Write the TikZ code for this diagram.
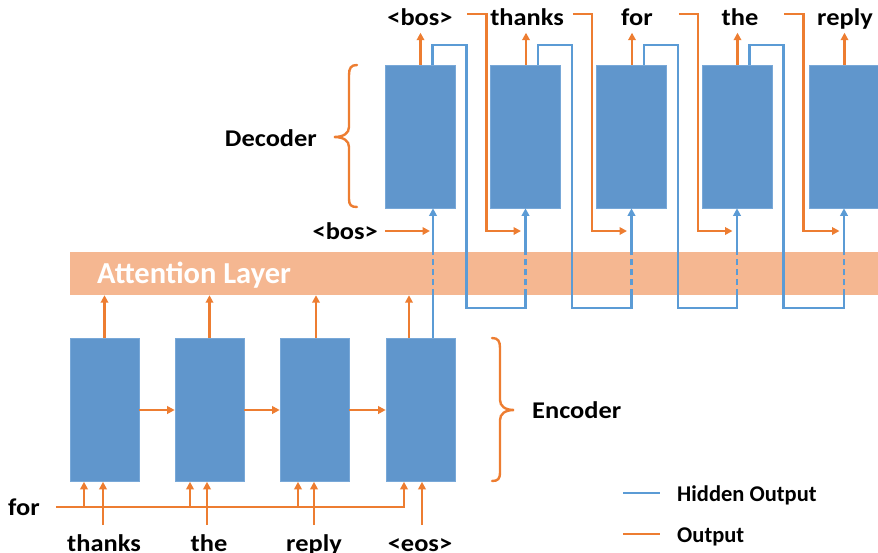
\documentclass[tikz,border=0pt]{standalone}
\usepackage{fontspec}
\setmainfont{Carlito}
\newfontfamily\widefont{Carlito}[FakeStretch=1.1]
\usetikzlibrary{arrows.meta}

\definecolor{cellfill}{RGB}{96,150,204}
\definecolor{celledge}{RGB}{120,168,216}
\definecolor{hidblue}{RGB}{91,155,213}
\definecolor{outorange}{RGB}{237,125,49}
\definecolor{bandfill}{RGB}{245,183,145}

\tikzset{
  cell/.style={draw=celledge, line width=0.6pt, fill=cellfill, inner sep=0pt,
               minimum width=69pt, minimum height=143pt},
  band/.style={fill=bandfill, inner sep=0pt, minimum width=810pt, minimum height=43pt},
  word/.style={inner sep=0pt, text=black, font=\widefont\bfseries\fontsize{24}{28}\selectfont},
  legendtext/.style={inner sep=0pt, text=black, font=\bfseries\fontsize{22.5}{26}\selectfont},
  bandtext/.style={inner sep=0pt, text=white, font=\bfseries\fontsize{30.5}{35}\selectfont},
  tip/.style={-{Triangle[length=7.5pt,width=7.5pt]}},
  outw/.style={draw=outorange, line width=2.4pt},
  outa/.style={outw, tip},
  hid/.style={draw=hidblue, line width=2.4pt},
  hida/.style={hid, tip},
  dashseg/.style={hid, dash pattern=on 6pt off 4pt},
  bracepath/.style={draw=outorange, line width=2.4pt, line cap=round},
}

\begin{document}
\begin{tikzpicture}[x=1pt, y=-1pt]
\useasboundingbox (0,0) rectangle (878,552);

% reference levels (only the y value is used)
\coordinate (wordline) at (0,14);
\coordinate (looptop)  at (0,45);
\coordinate (feed)     at (0,231);
\coordinate (looplow)  at (0,308);
\coordinate (forline)  at (0,507);
\coordinate (wordtop)  at (0,525);

% attention band
\node[band] (att) at (475,273.5) {};
\node[bandtext, anchor=base west] (attlbl) at (97,283) {Attention Layer};

% encoder cells
\node[cell] (e1) at (104.5,410) {};
\node[cell] (e2) at (209.5,410) {};
\node[cell] (e3) at (314.5,410) {};
\node[cell] (e4) at (420.5,410) {};

% decoder cells
\node[cell, minimum width=70pt] (d1) at (420,136.5) {};
\node[cell, minimum width=70pt] (d2) at (525.5,136.5) {};
\node[cell, minimum width=70pt] (d3) at (631.5,136.5) {};
\node[cell, minimum width=70pt] (d4) at (737,136.5) {};
\node[cell, minimum width=70pt] (d5) at (844,136.5) {};

% encoder: recurrent links
\draw[outa] (e1.east) -- (e2.west);
\draw[outa] (e2.east) -- (e3.west);
\draw[outa] (e3.east) -- (e4.west);

% encoder: outputs into the attention layer
\draw[outa] (e1.north) -- (e1.north |- att.south);
\draw[outa] (e2.north) -- (e2.north |- att.south);
\draw[outa] ([xshift=1.5pt]e3.north) -- ([xshift=1.5pt]e3.north |- att.south);
\draw[outa] ([xshift=-11.5pt]e4.north) -- ([xshift=-11.5pt]e4.north |- att.south);

% encoder hidden state handed to the first decoder cell
\coordinate (h0) at ([xshift=12.5pt]e4.north);
\draw[hid] (h0) -- (h0 |- att.south);
\draw[dashseg] (h0 |- att.south) -- (h0 |- att.north);
\draw[hida] (h0 |- att.north) -- ([xshift=13pt]d1.south);

% encoder inputs
\node[word, anchor=base west] (wfor) at (8,515) {for};
\node[word, anchor=base] (w1) at (104,551) {thanks};
\node[word, anchor=base] (w2) at (209,551) {the};
\node[word, anchor=base] (w3) at (314,551) {reply};
\node[word, anchor=base] (w4) at (420,551) {<eos>};

\draw[outa] ([xshift=16pt]wfor.east |- forline) -| ([xshift=-16.5pt]e4.south);
\draw[outa] ([xshift=-20.5pt]e1.south |- forline) -- ([xshift=-20.5pt]e1.south);
\draw[outa] ([xshift=-19.5pt]e2.south |- forline) -- ([xshift=-19.5pt]e2.south);
\draw[outa] ([xshift=-16.5pt]e3.south |- forline) -- ([xshift=-16.5pt]e3.south);

\draw[outa] ([xshift=-1.5pt]e1.south |- wordtop) -- ([xshift=-1.5pt]e1.south);
\draw[outa] ([xshift=-2.5pt]e2.south |- wordtop) -- ([xshift=-2.5pt]e2.south);
\draw[outa] ([xshift=-0.5pt]e3.south |- wordtop) -- ([xshift=-0.5pt]e3.south);
\draw[outa] ([xshift=1.5pt]e4.south |- wordtop) -- ([xshift=1.5pt]e4.south);

% decoder outputs
\node[word, anchor=base] (o1) at (420,25) {<bos>};
\node[word, anchor=base] (o2) at (527,25) {thanks};
\node[word, anchor=base] (o3) at (637,25) {for};
\node[word, anchor=base] (o4) at (740,25) {the};
\node[word, anchor=base] (o5) at (845,25) {reply};

\foreach \c in {d1,d2,d3,d4,d5}
  \draw[outa] ([xshift=0.5pt]\c.north) -- ++(0,-32);

% decoder start token
\node[word, anchor=base east] (bosin) at (378,239) {<bos>};
\draw[outa] ([xshift=7pt]bosin.east |- feed) -- ([xshift=10pt]d1.south |- feed);

% decoder: hidden state loops and fed-back outputs
\foreach \a/\b in {d1/d2, d2/d3, d3/d4, d4/d5} {
  \draw[hid] ([xshift=12.5pt]\a.north) -- ([xshift=12.5pt]\a.north |- looptop)
        -| ([xshift=11pt]\a.east |- looplow) -| (\b.south |- att.south);
  \draw[dashseg] (\b.south |- att.south) -- (\b.south |- att.north);
  \draw[hida] (\b.south |- att.north) -- (\b.south);
  \draw[outa] ([xshift=12pt]\a.east |- wordline) -| ([xshift=31pt]\a.east |- feed)
        -- ([xshift=-4.5pt]\b.south |- feed);
}

% braces and group labels
\draw[bracepath] (357,65) .. controls (351,65) and (349,68) .. (349,75)
  -- (349,127) .. controls (349,133) and (344,137) .. (334,137)
  .. controls (344,137) and (349,141) .. (349,147)
  -- (349,199) .. controls (349,205) and (351,207) .. (357,207);
\node[word, anchor=base east] (declbl) at (317,146) {Decoder};

\draw[bracepath] (492,338) .. controls (498,338) and (500,341) .. (500,348)
  -- (500,400) .. controls (500,406) and (505,410) .. (514,410)
  .. controls (505,410) and (500,414) .. (500,420)
  -- (500,472) .. controls (500,479) and (498,481) .. (492,481);
\node[word, anchor=base west] (enclbl) at (532,418) {Encoder};

% legend
\node[legendtext, anchor=base west] (lg1) at (677,501) {Hidden Output};
\node[legendtext, anchor=base west] (lg2) at (677,542) {Output};
\draw[hid] ([xshift=-54pt]lg1.west |- 0,493) -- ([xshift=-17pt]lg1.west |- 0,493);
\draw[outw] ([xshift=-54pt]lg2.west |- 0,534) -- ([xshift=-17pt]lg2.west |- 0,534);
\end{tikzpicture}
\end{document}
